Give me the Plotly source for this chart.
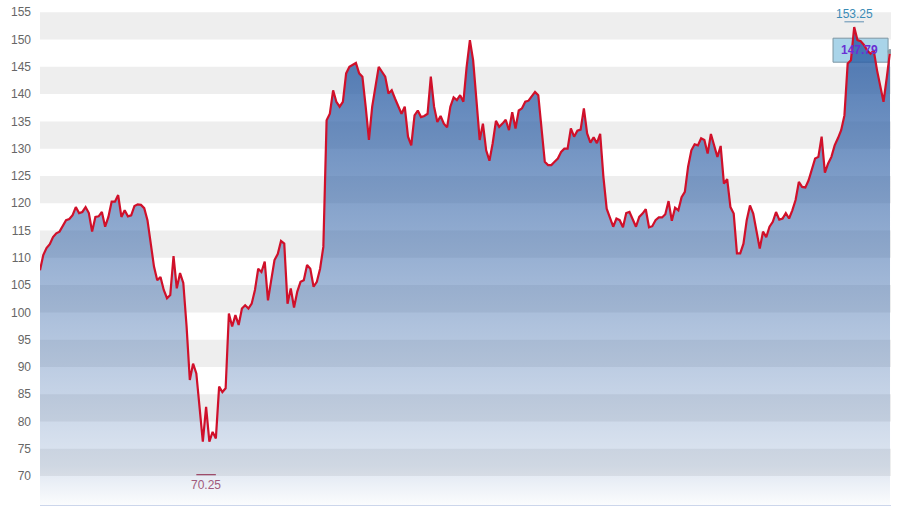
import plotly.graph_objects as go

# ---- data ----
seg1 = [107.7, 110.5, 111.8, 112.5, 113.8, 114.5, 114.8, 116.0, 116.9, 117.1, 117.8, 119.3, 118.2, 118.4,
        119.3, 118.2, 114.8, 117.5, 117.6, 118.4, 115.7, 117.5, 120.3, 120.3, 121.5, 117.5, 118.7, 117.6,
        117.8, 119.5, 119.8, 119.7, 119.1, 116.9, 112.7, 108.4, 105.9, 106.5, 104.1, 102.6, 103.2, 110.3, 104.4]
seg2 = [107.2, 105.4, 97.5, 87.6, 90.6, 88.8, 82.7, 76.3, 82.7, 76.3, 78.1, 76.9, 86.4, 85.4, 86.1, 99.8,
        97.4, 99.5, 97.7, 100.7, 101.3, 100.7, 101.6, 104.1, 108.0, 107.4, 109.3, 102.2, 105.9, 109.6, 110.7,
        113.1, 112.6, 101.6, 104.4, 100.9, 103.8, 105.6, 105.9, 108.7, 108.0, 104.7, 105.6, 108.0]
seg3 = [112.0, 135.2, 136.4, 140.7, 138.6, 137.7, 138.6, 143.8, 145.0, 145.3, 145.7, 143.8, 143.2, 137.7,
        131.6, 137.7, 141.3, 145.0, 144.1, 143.2, 140.1, 140.7, 139.2, 137.7, 136.4, 137.7, 132.2, 130.6,
        136.1, 137.0, 135.8, 136.0, 136.4, 143.2, 137.7, 134.9, 136.0, 134.6, 133.9, 137.7, 139.4, 138.9,
        139.8, 138.6]
seg4 = [145.0, 149.9, 146.2, 139.0, 131.6, 134.6, 129.7, 127.8, 131.0, 135.1, 134.0, 134.6, 135.3, 133.4,
        136.7, 133.7, 137.0, 137.4, 138.6, 138.8, 139.5, 140.4, 139.8, 134.0, 127.6, 127.0, 127.0, 127.6,
        128.2, 129.4, 130.0, 130.0, 133.7, 132.2, 133.3, 133.5, 137.4, 132.8, 131.1, 132.1, 131.0, 132.7, 124.8]
seg5 = [119.0, 117.2, 115.7, 117.2, 116.9, 115.6, 118.2, 118.4, 116.9, 115.7, 117.5, 118.1, 118.9, 115.6,
        115.8, 116.9, 117.4, 117.4, 118.0, 120.4, 116.8, 119.2, 118.7, 121.1, 122.1, 126.7, 129.7, 130.8,
        130.6, 131.9, 131.6, 129.1, 132.7, 130.6, 128.5, 130.5, 123.6, 124.4, 119.3, 118.1, 110.8, 110.8,
        112.6, 116.9]
seg6 = [119.6, 118.1, 114.5, 111.7, 114.8, 113.8, 115.7, 116.6, 118.4, 117.0, 117.2, 118.2, 117.2, 118.7,
        120.6, 123.9, 123.0, 122.9, 124.2, 126.1, 128.2, 128.5, 132.2, 125.6, 127.3, 128.5, 130.6, 131.9,
        133.4, 136.1, 145.6, 146.2, 152.3, 149.9, 149.7, 149.0, 148.0, 147.4, 148.0, 144.4, 141.3, 138.6,
        143.0, 147.79]
prices = seg1 + seg2 + seg3 + seg4 + seg5 + seg6
days = list(range(len(prices)))

y_ticks = list(range(70, 160, 5))
band_lows = list(range(70, 155, 10))
max_label = 153.25
min_label = 70.25
last_label = 147.79

n = len(prices)
imax = prices.index(max(prices))
mn = min(prices)
imin_list = [i for i, v in enumerate(prices) if v == mn]
imin = (imin_list[0] + imin_list[-1]) / 2

fig = go.Figure()

# alternating bands
for lo in band_lows:
    fig.add_shape(type="rect", xref="paper", x0=0, x1=1, y0=lo, y1=lo + 5,
                  fillcolor="#eeeeee", line_width=0, layer="below")

# last value box (below the series)
fig.add_shape(type="rect", x0=n - 1 - 17.5, x1=n - 1 - 0.6, y0=145.85, y1=150.25,
              fillcolor="#a9d4e9", line=dict(color="#7d96a3", width=1), layer="below")

fig.add_trace(go.Scatter(
    x=days, y=prices, mode="lines",
    line=dict(color="#d0102a", width=2.2),
    fill="tozeroy",
    fillgradient=dict(type="vertical",
                      colorscale=[[0, "rgba(45,95,165,0.02)"],
                                  [0.08, "rgba(45,95,165,0.16)"],
                                  [1, "rgba(45,95,165,0.88)"]],
                      start=64.7, stop=155),
    hoverinfo="skip", showlegend=False))

fig.add_trace(go.Scatter(x=[days[-1]], y=[prices[-1]], mode="markers",
                         marker=dict(size=5, color="#8c9ea8"), hoverinfo="skip", showlegend=False))

# max / min markers
fig.add_shape(type="line", x0=imax - 3, x1=imax + 3, y0=max_label, y1=max_label,
              line=dict(color="#5f8fb2", width=1))
fig.add_annotation(x=imax, y=max_label, text=f"{max_label:.2f}", showarrow=False,
                   yanchor="bottom", yshift=-1, font=dict(color="#3a8bb6", size=12))
fig.add_shape(type="line", x0=imin - 3, x1=imin + 3, y0=min_label, y1=min_label,
              line=dict(color="#8e2448", width=1))
fig.add_annotation(x=imin, y=min_label, text=f"{min_label:.2f}", showarrow=False,
                   yanchor="top", yshift=-1, font=dict(color="#a05a7c", size=12))
fig.add_annotation(x=n - 1 - 9.5, y=148.05, text=f"<b>{last_label:.2f}</b>", showarrow=False,
                   font=dict(color="#6a30d4", size=12))

fig.update_layout(
    width=900, height=513,
    margin=dict(l=40, r=9, t=12, b=8, autoexpand=False),
    plot_bgcolor="white", paper_bgcolor="white",
    font=dict(family="Liberation Sans, Arial, sans-serif", color="#666666", size=12),
    showlegend=False,
    xaxis=dict(range=[0, n - 1 + 0.3], showgrid=False, zeroline=False, showticklabels=False,
               showline=True, linecolor="#ccd6eb", linewidth=1, ticks="", automargin=False),
    yaxis=dict(range=[64.7, 155.05], tickvals=y_ticks, showgrid=False, zeroline=False,
               showline=False, ticks="", ticklabelstandoff=8, automargin=False,
               tickfont=dict(color="#666666", size=12)),
)

fig.write_html("out.html", config={"displayModeBar": False},
               post_script="document.body.style.margin='0';document.body.style.padding='0';")
